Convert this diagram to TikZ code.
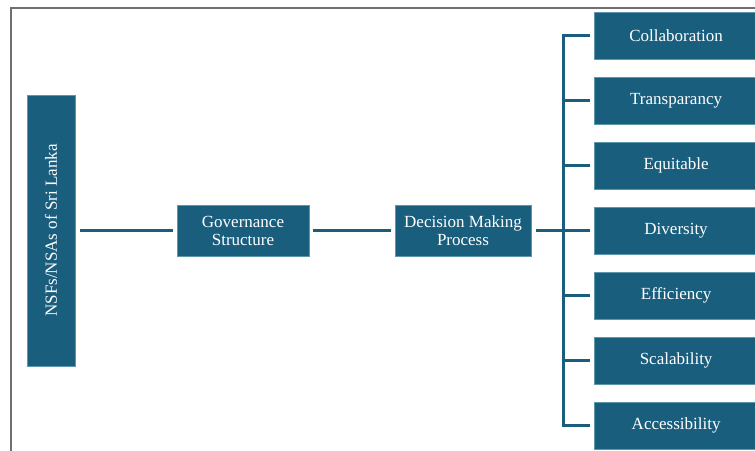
\documentclass[tikz,border=0pt]{standalone}
\usepackage{fontspec}
\setmainfont{Liberation Serif}
\usetikzlibrary{positioning}

\definecolor{boxblue}{HTML}{1A5E7E}
\definecolor{boxedge}{HTML}{5E96B0}
\definecolor{framegray}{HTML}{707070}

\tikzset{
  blk/.style={rectangle,fill=boxblue,draw=boxedge,very thin,text=white,
    font=\fontsize{17}{18}\selectfont,align=center,inner sep=0pt},
  link/.style={draw=boxblue,line width=3pt},
}

\begin{document}
\begin{tikzpicture}[x=1pt,y=-1pt]
\useasboundingbox (0,0) rectangle (755,450);
\begin{scope}
\clip (0,0) rectangle (755,450);
% outer frame
\draw[framegray,line width=1.5pt] (11,452) -- (11,8) -- (757,8);

% main chain
\node[blk,rotate=90,minimum width=271pt,minimum height=48pt] (nsf) at (51,230.5) {NSFs/NSAs of Sri Lanka};
\node[blk,minimum width=132pt,minimum height=51pt] (gov) at (243,230.5) {Governance\\Structure};
\node[blk,minimum width=136pt,minimum height=51pt] (dec) at (463,230.5) {Decision Making\\Process};

\draw[link,shorten <=5pt,shorten >=4pt] (nsf.south) -- (gov.west);
\draw[link,shorten <=4pt,shorten >=4pt] (gov.east) -- (dec.west);

% principles
\foreach \n/\lbl [count=\i from 0] in {c1/Collaboration,c2/Transparancy,c3/Equitable,c4/Diversity,c5/Efficiency,c6/Scalability,c7/Accessibility}
  \node[blk,anchor=west,minimum width=164pt,minimum height=47pt] (\n) at (594,35.5+65*\i) {\lbl};

\coordinate (trunk) at (563,230.5);
\draw[link,shorten <=5pt] (dec.east) -- (trunk);
\draw[link] ([yshift=1.5pt]trunk |- c1.west) -- ([yshift=-1.5pt]trunk |- c7.west);
\foreach \n in {c1,c2,c3,c4,c5,c6,c7}
  \draw[link,shorten >=4pt] (trunk |- \n.west) -- (\n.west);
\end{scope}
\end{tikzpicture}
\end{document}
